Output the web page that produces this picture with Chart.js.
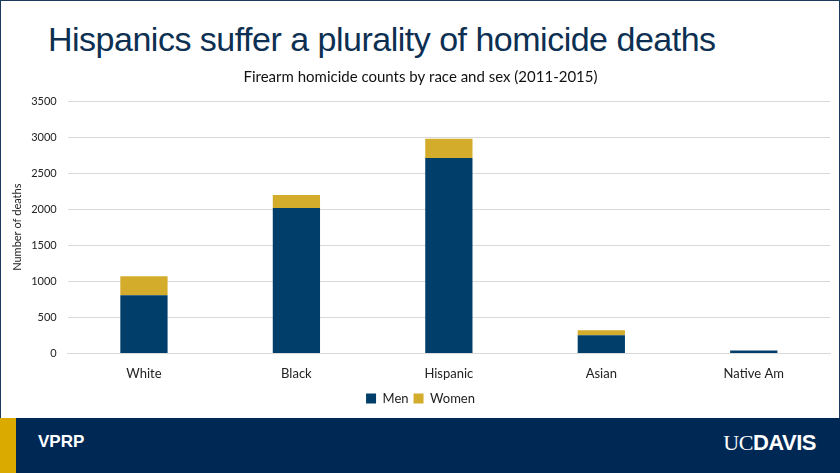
<!DOCTYPE html>
<html>
<head>
<meta charset="utf-8">
<script src="https://cdn.jsdelivr.net/npm/chart.js@4/dist/chart.umd.min.js"></script>
<style>
  html, body { margin: 0; padding: 0; }
  body { width: 840px; height: 473px; position: relative; overflow: hidden; background: #fff; }
  .frame { position: absolute; left: 0; top: 0; width: 838px; height: 471px; border: 1px solid #1d3a5c; box-sizing: content-box; }
  .title { position: absolute; left: 48px; top: 20px; font-family: "Liberation Sans", Arial, sans-serif; font-size: 34px; color: #0c2f52; letter-spacing: -0.5px; }
  .chart-wrap { position: absolute; left: 0; top: 62px; width: 840px; height: 353px; }
  .footer { position: absolute; left: 0; top: 418px; width: 840px; height: 55px; background: #002855; }
  .stripe { position: absolute; left: 0; top: 0; width: 16px; height: 55px; background: #daaa00; }
  .vprp { position: absolute; left: 38px; top: 14px; color: #fff; font-family: "Liberation Sans", Arial, sans-serif; font-weight: bold; font-size: 17px; }
  .logo { position: absolute; right: 24px; top: 12px; color: #fff; font-size: 22px; letter-spacing: -0.5px; }
  .logo .uc { font-family: "Liberation Serif", serif; }
  .logo .davis { font-family: "Liberation Sans", Arial, sans-serif; font-weight: bold; }
</style>
</head>
<body>
<div class="frame"></div>
<div class="title">Hispanics suffer a plurality of homicide deaths</div>
<div class="chart-wrap"><canvas id="chart"></canvas></div>
<div class="footer">
  <div class="stripe"></div>
  <div class="vprp">VPRP</div>
  <div class="logo"><span class="uc">UC</span><span class="davis">DAVIS</span></div>
</div>
<script>
// ========== DATA ==========
const races = ['White', 'Black', 'Hispanic', 'Asian', 'Native Am'];
const menDeaths = [805, 2015, 2710, 250, 40];
const womenDeaths = [265, 180, 265, 70, 0];
const yTicks = [0, 500, 1000, 1500, 2000, 2500, 3000, 3500];

const FONT = 'Lato, "Open Sans", sans-serif';

new Chart(document.getElementById('chart'), {
  type: 'bar',
  data: {
    labels: races,
    datasets: [
      { label: 'Men', data: menDeaths, backgroundColor: '#023e6a' },
      { label: 'Women', data: womenDeaths, backgroundColor: '#d4ac2c' }
    ]
  },
  options: {
    responsive: true,
    maintainAspectRatio: false,
    animation: false,
    layout: { padding: { left: 11, right: 10, top: 0, bottom: 0 } },
    datasets: { bar: { categoryPercentage: 1, barPercentage: 0.31 } },
    plugins: {
      title: {
        display: true,
        text: 'Firearm homicide counts by race and sex (2011-2015)',
        color: '#111',
        font: { family: FONT, size: 15, weight: 'normal' },
        padding: { top: 6, bottom: 15 }
      },
      legend: {
        position: 'bottom',
        labels: {
          color: '#222',
          font: { family: FONT, size: 13 },
          boxWidth: 10,
          boxHeight: 10,
          padding: 5
        }
      },
      tooltip: { enabled: false }
    },
    scales: {
      x: {
        stacked: true,
        grid: { display: false },
        border: { color: '#d9d9d9' },
        ticks: { color: '#222', font: { family: FONT, size: 13 }, padding: 5 }
      },
      y: {
        stacked: true,
        min: 0,
        max: 3500,
        afterBuildTicks: axis => { axis.ticks = yTicks.map(v => ({ value: v })); },
        grid: { color: '#d9d9d9', drawTicks: false },
        border: { display: false },
        ticks: { color: '#222', font: { family: FONT, size: 11 }, padding: 11, callback: v => String(v) },
        title: {
          display: true,
          text: 'Number of deaths',
          color: '#222',
          font: { family: FONT, size: 11 },
          padding: { top: 0, bottom: -4 }
        }
      }
    }
  }
});
</script>
</body>
</html>
